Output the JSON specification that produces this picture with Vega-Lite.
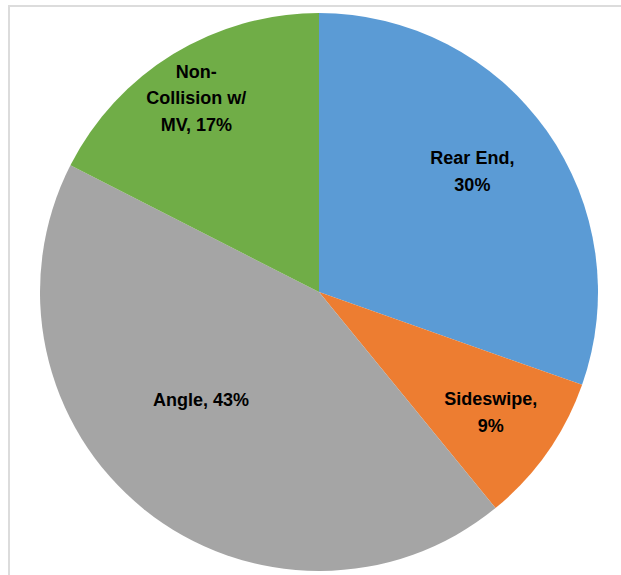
{
  "$schema": "https://vega.github.io/schema/vega-lite/v6.json",
  "width": 620,
  "height": 572,
  "autosize": {"type": "none"},
  "padding": {"left": 9, "top": 6, "right": 0, "bottom": 0},
  "background": "white",
  "config": {"view": {"stroke": "#dcdcdc", "strokeWidth": 2}},
  "data": {
    "values": [
      {"seq": 1, "cat": "Rear End", "pct": 30.4, "label": "Rear End,\n30%"},
      {"seq": 2, "cat": "Sideswipe", "pct": 8.7, "label": "Sideswipe,\n9%"},
      {"seq": 3, "cat": "Angle", "pct": 43.4, "label": "Angle, 43%"},
      {"seq": 4, "cat": "Non-Collision w/ MV", "pct": 17.5, "label": "Non-\nCollision w/\nMV, 17%"}
    ]
  },
  "layer": [
    {
      "mark": {"type": "point", "opacity": 0},
      "encoding": {
        "x": {"field": "pct", "type": "quantitative", "axis": null},
        "y": {"field": "pct", "type": "quantitative", "axis": null}
      }
    },
    {
      "mark": {"type": "arc", "radius": 279},
      "encoding": {
        "theta": {"field": "pct", "type": "quantitative", "stack": true},
        "order": {"field": "seq", "type": "quantitative", "sort": "ascending"},
        "color": {
          "field": "cat",
          "type": "nominal",
          "scale": {
            "domain": ["Rear End", "Sideswipe", "Angle", "Non-Collision w/ MV"],
            "range": ["#5B9BD5", "#ED7D31", "#A5A5A5", "#70AD47"]
          },
          "legend": null
        }
      }
    },
    {
      "mark": {"type": "text", "radius": 194, "dx": -5, "dy": -21, "font": "Liberation Sans", "fontWeight": "bold", "fontSize": 18, "lineHeight": 27, "lineBreak": "\n", "align": "center", "baseline": "middle", "color": "black"},
      "encoding": {
        "theta": {"field": "pct", "type": "quantitative", "stack": true},
        "order": {"field": "seq", "type": "quantitative", "sort": "ascending"},
        "text": {"condition": {"test": "datum.cat === 'Rear End'", "field": "label"}, "value": ""}
      }
    },
    {
      "mark": {"type": "text", "radius": 210, "dy": -13, "font": "Liberation Sans", "fontWeight": "bold", "fontSize": 18, "lineHeight": 27, "lineBreak": "\n", "align": "center", "baseline": "middle", "color": "black"},
      "encoding": {
        "theta": {"field": "pct", "type": "quantitative", "stack": true},
        "order": {"field": "seq", "type": "quantitative", "sort": "ascending"},
        "text": {"condition": {"test": "datum.cat === 'Sideswipe'", "field": "label"}, "value": ""}
      }
    },
    {
      "mark": {"type": "text", "radius": 161, "dx": -17, "dy": -16, "font": "Liberation Sans", "fontWeight": "bold", "fontSize": 18, "lineHeight": 27, "lineBreak": "\n", "align": "center", "baseline": "middle", "color": "black"},
      "encoding": {
        "theta": {"field": "pct", "type": "quantitative", "stack": true},
        "order": {"field": "seq", "type": "quantitative", "sort": "ascending"},
        "text": {"condition": {"test": "datum.cat === 'Angle'", "field": "label"}, "value": ""}
      }
    },
    {
      "mark": {"type": "text", "radius": 229, "dx": -3, "dy": -24, "font": "Liberation Sans", "fontWeight": "bold", "fontSize": 18, "lineHeight": 26.5, "lineBreak": "\n", "align": "center", "baseline": "middle", "color": "black"},
      "encoding": {
        "theta": {"field": "pct", "type": "quantitative", "stack": true},
        "order": {"field": "seq", "type": "quantitative", "sort": "ascending"},
        "text": {"condition": {"test": "datum.cat === 'Non-Collision w/ MV'", "field": "label"}, "value": ""}
      }
    }
  ]
}
